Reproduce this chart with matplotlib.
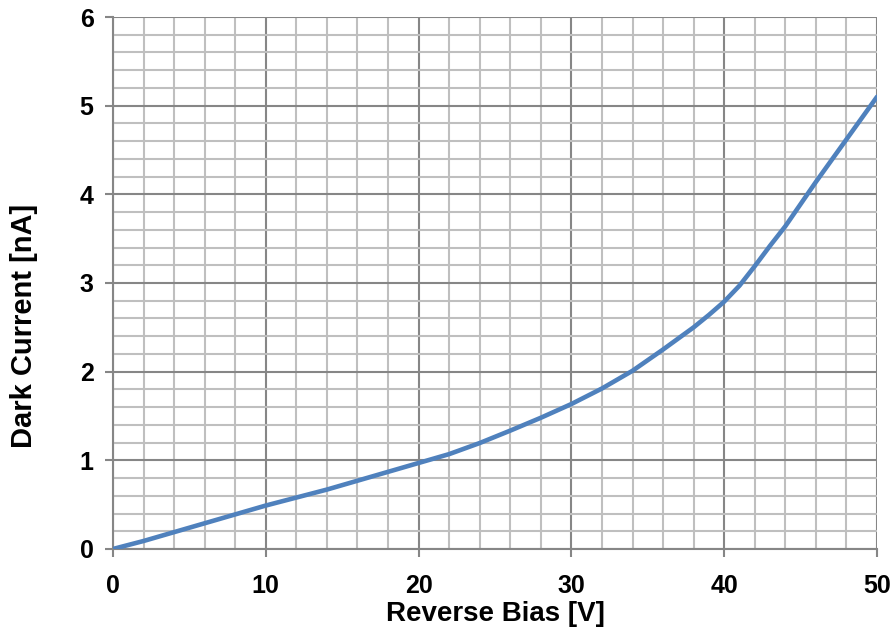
import numpy as np
import matplotlib
matplotlib.use("Agg")
import matplotlib.pyplot as plt
from matplotlib.ticker import MultipleLocator

# Values
bias_v = [0, 2, 4, 6, 8, 10, 12, 14, 16, 18, 20, 22, 24, 26, 28, 30,
          32, 34, 36, 38, 39, 40, 41, 42, 43, 44, 46, 48, 50]
dark_na = [0.0, 0.09, 0.19, 0.29, 0.39, 0.49, 0.58, 0.67, 0.77, 0.87, 0.97,
           1.07, 1.195, 1.335, 1.48, 1.635, 1.81, 2.01, 2.25, 2.50, 2.64,
           2.79, 2.97, 3.19, 3.42, 3.64, 4.14, 4.62, 5.1]

plt.rcParams['font.family'] = ['Liberation Sans', 'DejaVu Sans']

fig = plt.figure(figsize=(8.91, 6.30), dpi=100)
ax = fig.add_axes([0.1268, 0.1286, 0.8575, 0.8444])

ax.plot(bias_v, dark_na, color='#4F81BD', lw=3.3, solid_capstyle='round',
        solid_joinstyle='round', zorder=3)

ax.set_xlim(0, 50)
ax.set_ylim(0, 6)
ax.xaxis.set_major_locator(MultipleLocator(10))
ax.xaxis.set_minor_locator(MultipleLocator(2))
ax.yaxis.set_major_locator(MultipleLocator(1))
ax.yaxis.set_minor_locator(MultipleLocator(0.2))

ax.grid(which='minor', color='#BFBFBF', lw=1.5)
ax.grid(which='major', color='#868686', lw=1.5)
ax.set_axisbelow(True)

for s in ['top', 'right']:
    ax.spines[s].set_visible(False)
for s in ['left', 'bottom']:
    ax.spines[s].set_color('#868686')
    ax.spines[s].set_linewidth(1.5)

ax.tick_params(which='major', length=6, width=1.5, color='#868686',
               labelsize=18, pad=8)
ax.tick_params(axis='x', pad=12)
ax.tick_params(which='minor', length=0)
for lbl in ax.get_xticklabels() + ax.get_yticklabels():
    lbl.set_fontweight('bold')

ax.set_xlabel('Reverse Bias [V]', fontsize=20, fontweight='bold', labelpad=2)
ax.set_ylabel('Dark Current [nA]', fontsize=21, fontweight='bold')
ax.yaxis.set_label_coords(-0.098, 0.42)

fig.savefig('out.png', dpi=100)
